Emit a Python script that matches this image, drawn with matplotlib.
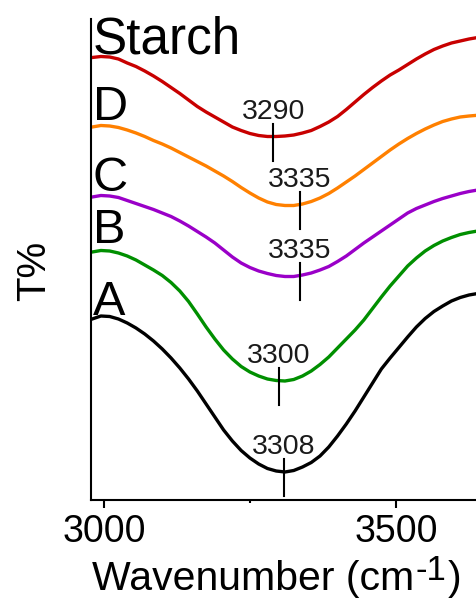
import numpy as np
import matplotlib.pyplot as plt
from matplotlib.ticker import MultipleLocator

plt.rcParams['font.family'] = ['Liberation Sans', 'DejaVu Sans']

# wavenumber grid shared by all spectra (cm-1)
wavenumber = [2980, 2995, 3010, 3025, 3040, 3055, 3070, 3085, 3100, 3115,
              3130, 3145, 3160, 3175, 3190, 3205, 3220, 3235, 3250, 3265,
              3280, 3295, 3310, 3325, 3340, 3355, 3370, 3385, 3400, 3415,
              3430, 3445, 3460, 3475, 3490, 3505, 3520, 3535, 3550, 3565,
              3580, 3595, 3610, 3625, 3635]

# transmittance traces, stacked with an offset
t_starch = [88.5, 88.7, 88.6, 88.2, 87.4, 86.7, 85.8, 84.8, 83.7, 82.5,
            81.3, 80.0, 78.7, 77.6, 76.6, 75.6, 74.6, 73.9, 73.3, 72.9,
            72.7, 72.7, 72.8, 73.0, 73.4, 73.9, 74.7, 75.6, 76.7, 78.1,
            79.6, 81.1, 82.5, 83.8, 85.0, 86.0, 87.1, 88.2, 89.2, 90.1,
            90.8, 91.4, 91.8, 92.2, 92.4]
t_d = [74.6, 74.9, 74.8, 74.5, 74.0, 73.4, 72.7, 71.9, 71.2, 70.4,
       69.5, 68.6, 67.7, 66.8, 65.8, 64.8, 63.7, 62.5, 61.4, 60.4,
       59.6, 59.1, 58.9, 58.9, 59.2, 59.7, 60.4, 61.3, 62.4, 63.6,
       64.8, 66.1, 67.4, 68.7, 70.0, 71.2, 72.3, 73.3, 74.2, 75.0,
       75.7, 76.2, 76.6, 76.8, 76.9]
t_c = [60.6, 60.9, 60.8, 60.5, 59.9, 59.3, 58.7, 58.1, 57.4, 56.7,
       55.8, 54.8, 53.7, 52.6, 51.4, 50.0, 48.6, 47.4, 46.5, 45.8,
       45.3, 44.9, 44.7, 44.7, 45.0, 45.4, 46.0, 46.7, 47.7, 48.8,
       50.1, 51.4, 52.6, 53.8, 55.0, 56.2, 57.4, 58.3, 59.0, 59.7,
       60.3, 60.8, 61.3, 61.7, 61.9]
t_b = [49.6, 49.9, 49.8, 49.4, 48.8, 48.0, 47.0, 46.0, 44.9, 43.5,
       41.8, 39.7, 37.2, 34.6, 32.2, 30.0, 28.2, 26.7, 25.6, 24.8,
       24.2, 23.9, 23.8, 24.1, 24.8, 25.8, 27.1, 28.6, 30.4, 32.2,
       34.0, 36.0, 38.3, 40.6, 42.8, 44.8, 46.8, 48.4, 49.8, 50.9,
       51.8, 52.5, 53.1, 53.5, 53.7]
t_a = [36.2, 36.8, 36.7, 36.2, 35.4, 34.4, 33.2, 31.8, 30.2, 28.4,
       26.4, 24.2, 21.8, 19.2, 16.6, 14.0, 11.8, 9.9, 8.4, 7.2,
       6.3, 5.8, 5.6, 5.9, 6.6, 7.5, 8.8, 10.6, 12.8, 15.2,
       17.8, 20.6, 23.4, 26.2, 28.4, 30.5, 32.6, 34.6, 36.3, 37.7,
       38.8, 39.8, 40.5, 41.0, 41.2]

samples = ['A', 'B', 'C', 'D', 'Starch']
traces = [t_a, t_b, t_c, t_d, t_starch]
peaks = [3308, 3300, 3335, 3335, 3290]
label_y = [37.0, 51.4, 61.8, 76.0, 89.4]
colors = ['black', '#008F00', '#9A00C8', '#FF8000', '#C80000']

fig = plt.figure(figsize=(4.76, 6.0), dpi=100)
ax = fig.add_axes([91 / 476, 100 / 600, 385 / 476, 481 / 600])

x = np.array(wavenumber)
for name, t, pk, ly, c in zip(samples, traces, peaks, label_y, colors):
    t = np.array(t)
    ax.plot(x, t, color=c, lw=2.4, solid_joinstyle='round')
    ax.text(2981, ly, name, fontsize=37 if name == 'Starch' else 35,
            ha='left', va='baseline')
    # mark the band minimum
    y0 = np.interp(pk, x, t)
    ax.plot([pk, pk], [y0 - 4.8, y0 + 2.6], color='black', lw=1.5)
    ax.text(pk, y0 + 3.6, str(pk), fontsize=20.5, ha='center', va='baseline',
            color='#1a1a1a')

ax.set_xlim(2978, 3637)
ax.set_ylim(0, 96.2)
ax.xaxis.set_major_locator(MultipleLocator(500))
ax.xaxis.set_minor_locator(MultipleLocator(250))
ax.set_yticks([])
ax.tick_params(axis='x', which='major', direction='out', length=5.5, width=1.5,
               labelsize=27, pad=4.5)
ax.tick_params(axis='x', which='minor', direction='out', length=2.5, width=1.5)
for side in ['top', 'right']:
    ax.spines[side].set_visible(False)
for side in ['left', 'bottom']:
    ax.spines[side].set_linewidth(1.5)

# x label with a full-size raised exponent
xl = fig.text(92 / 476, 10 / 600, 'Wavenumber (cm', fontsize=29.5,
              ha='left', va='baseline')
sup = ax.annotate('-1', xy=(1, 0), xycoords=xl, xytext=(1, 13),
                  textcoords='offset points', fontsize=25,
                  ha='left', va='baseline')
ax.annotate(')', xy=(1, 0), xycoords=(sup, xl), xytext=(1, 0),
            textcoords='offset points', fontsize=29.5, ha='left', va='bottom')

fig.text(34 / 476, 1 - 271 / 600, 'T%', fontsize=29, rotation=90,
         ha='center', va='center')

fig.savefig('out.png', dpi=100)
